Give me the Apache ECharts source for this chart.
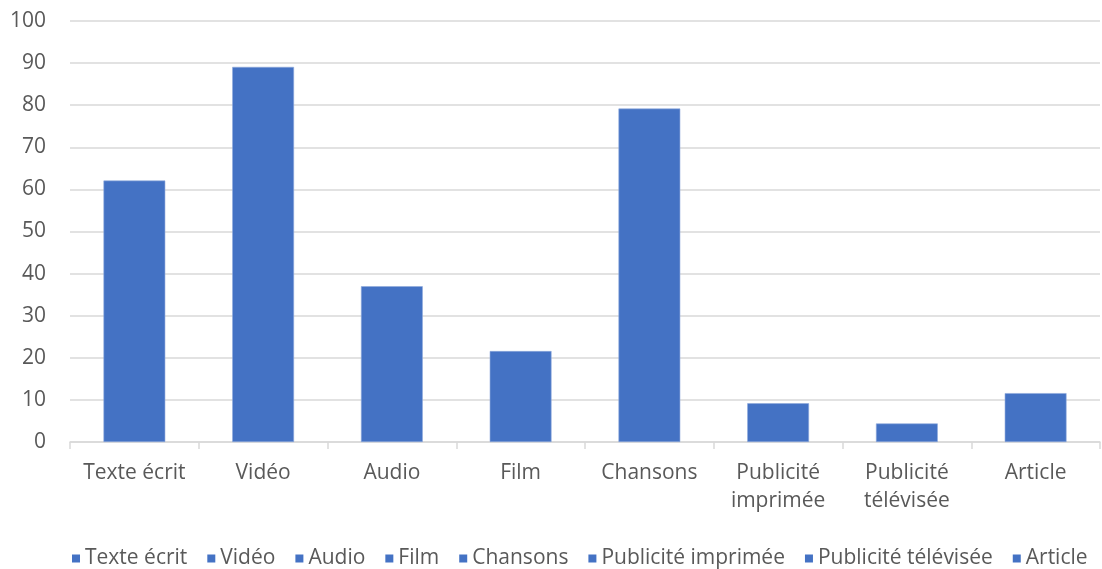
<!DOCTYPE html>
<html>
<head>
<meta charset="utf-8">
<script src="https://cdn.jsdelivr.net/npm/echarts@6/dist/echarts.min.js"></script>
<style>
html,body{margin:0;padding:0;background:#fff;}
#chart{width:1102px;height:569px;}
</style>
</head>
<body>
<div id="chart"></div>
<script>
var categories = ['Texte écrit', 'Vidéo', 'Audio', 'Film', 'Chansons', 'Publicité\nimprimée', 'Publicité\ntélévisée', 'Article'];
var seriesNames = ['Texte écrit', 'Vidéo', 'Audio', 'Film', 'Chansons', 'Publicité imprimée', 'Publicité télévisée', 'Article'];
var values = [62.1, 89.1, 37, 21.6, 79.2, 9.2, 4.4, 11.6];
var yTicks = [0, 10, 20, 30, 40, 50, 60, 70, 80, 90, 100];

var FONT = '"Open Sans", "Noto Sans", sans-serif';
var TEXT = '#595959';
var BLUE = '#4472C4';
var FS = 21;

var series = seriesNames.map(function (name, i) {
  var d = categories.map(function (c, j) { return j === i ? values[i] : null; });
  return {
    name: name,
    type: 'bar',
    stack: 'all',
    barWidth: '48%',
    data: d,
    itemStyle: { color: BLUE, borderColor: '#8FA9DC', borderWidth: 0.6 }
  };
});

var chart = echarts.init(document.getElementById('chart'), null, { renderer: 'canvas' });
chart.setOption({
  animation: false,
  textStyle: { fontFamily: FONT },
  grid: { left: 70, right: 2, top: 21, bottom: 127, containLabel: false },
  legend: {
    data: seriesNames,
    top: 543,
    left: 67,
    icon: 'rect',
    itemWidth: 8,
    itemHeight: 8,
    itemGap: 20,
    itemStyle: { borderWidth: 0 },
    textStyle: { color: TEXT, fontSize: FS, fontFamily: FONT }
  },
  xAxis: {
    type: 'category',
    data: categories,
    axisLine: { show: true, lineStyle: { color: '#D9D9D9', width: 1.5 } },
    axisTick: { show: true, length: 7, lineStyle: { color: '#D9D9D9', width: 1.5 } },
    axisLabel: { color: TEXT, fontSize: FS, fontFamily: FONT, margin: 17, lineHeight: 28, interval: 0 }
  },
  yAxis: {
    type: 'value',
    min: yTicks[0],
    max: yTicks[yTicks.length - 1],
    interval: 10,
    axisLine: { show: false },
    axisTick: { show: false },
    splitLine: { lineStyle: { color: '#D9D9D9', width: 1.5 } },
    axisLabel: { color: TEXT, fontSize: FS, fontFamily: FONT, margin: 24 }
  },
  series: series
});
</script>
</body>
</html>
